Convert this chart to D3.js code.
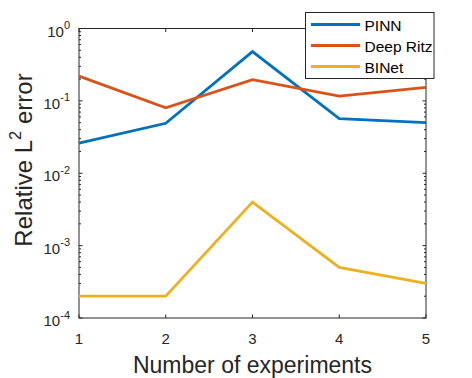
<!DOCTYPE html>
<html lang="en">
<head>
<meta charset="UTF-8">
<title>Relative L2 error</title>
<script src="https://d3js.org/d3.v7.min.js"></script>
<style>
  body { margin: 0; background: #fff; }
  svg { font-family: "Liberation Sans", Arial, sans-serif; }
</style>
</head>
<body>
<svg width="472" height="378"></svg>
<script>
// data
var experiments = [1, 2, 3, 4, 5];
var pinn = [0.026, 0.049, 0.48, 0.057, 0.050];
var deepRitz = [0.22, 0.080, 0.196, 0.116, 0.154];
var binet = [0.0002, 0.0002, 0.004, 0.0005, 0.0003];
var seriesNames = ["PINN", "Deep Ritz", "BINet"];
var seriesColors = ["#0072BD", "#D95319", "#EDB120"];
var yTickExps = [0, -1, -2, -3, -4];

(function() {
  var svg = d3.select("svg");
  var pl = 79, pr = 426, pt = 28.5, pb = 318;

  var x = d3.scaleLinear().domain([1, 5]).range([pl, pr]);
  var y = d3.scaleLog().domain([1e-4, 1]).range([pb, pt]);

  var all = [pinn, deepRitz, binet];

  // box
  svg.append("rect")
    .attr("x", pl).attr("y", pt)
    .attr("width", pr - pl).attr("height", pb - pt)
    .attr("fill", "none").attr("stroke", "#262626").attr("stroke-width", 1);

  // ticks (inside, both sides)
  var ticks = svg.append("g").attr("stroke", "#262626").attr("stroke-width", 1);
  experiments.forEach(function(v) {
    ticks.append("line").attr("x1", x(v)).attr("x2", x(v)).attr("y1", pb).attr("y2", pb - 3.5);
    ticks.append("line").attr("x1", x(v)).attr("x2", x(v)).attr("y1", pt).attr("y2", pt + 3.5);
  });
  for (var e = -4; e <= 0; e++) {
    [1, 2, 3, 4, 5, 6, 7, 8, 9].forEach(function(m) {
      var v = m * Math.pow(10, e);
      if (v > 1) return;
      var len = m === 1 ? 3.5 : 2;
      ticks.append("line").attr("x1", pl).attr("x2", pl + len).attr("y1", y(v)).attr("y2", y(v));
      ticks.append("line").attr("x1", pr).attr("x2", pr - len).attr("y1", y(v)).attr("y2", y(v));
    });
  }

  // x tick labels
  svg.append("g").selectAll("text").data(experiments).join("text")
    .attr("x", function(d) { return x(d); })
    .attr("y", 343.5)
    .attr("text-anchor", "middle")
    .attr("font-size", 15)
    .attr("fill", "#262626")
    .text(function(d) { return d; });

  // y tick labels as 10^n
  var yl = svg.append("g").selectAll("text").data(yTickExps).join("text")
    .attr("x", 70)
    .attr("y", function(d) { return y(Math.pow(10, d)) + 8; })
    .attr("text-anchor", "end")
    .attr("font-size", 15)
    .attr("fill", "#262626");
  yl.append("tspan").text("10");
  yl.append("tspan").attr("dy", -7.5).attr("font-size", 11).text(function(d) { return d; });

  // axis labels
  svg.append("text")
    .attr("x", (pl + pr) / 2).attr("y", 373)
    .attr("text-anchor", "middle").attr("font-size", 23).attr("fill", "#262626")
    .text("Number of experiments");

  var ylab = svg.append("text")
    .attr("transform", "translate(31.5,160) rotate(-90)")
    .attr("text-anchor", "middle").attr("font-size", 24).attr("fill", "#262626");
  ylab.append("tspan").text("Relative L");
  ylab.append("tspan").attr("dy", -11).attr("font-size", 16.5).text("2");
  ylab.append("tspan").attr("dy", 11).text(" error");

  // lines
  var line = d3.line()
    .x(function(d, i) { return x(experiments[i]); })
    .y(function(d) { return y(d); });

  svg.append("g").selectAll("path").data(all).join("path")
    .attr("d", line)
    .attr("fill", "none")
    .attr("stroke", function(d, i) { return seriesColors[i]; })
    .attr("stroke-width", 2.8)
    .attr("stroke-linejoin", "miter");

  // legend
  var lg = svg.append("g");
  lg.append("rect")
    .attr("x", 305.5).attr("y", 12.5).attr("width", 128.5).attr("height", 66)
    .attr("fill", "#fff").attr("stroke", "#262626").attr("stroke-width", 1);
  seriesNames.forEach(function(name, i) {
    var ly = 24.5 + i * 21;
    lg.append("line")
      .attr("x1", 311).attr("x2", 360).attr("y1", ly).attr("y2", ly)
      .attr("stroke", seriesColors[i]).attr("stroke-width", 2.8);
    lg.append("text")
      .attr("x", 364.5).attr("y", ly + 6)
      .attr("font-size", 15.5).attr("fill", "#000")
      .text(name);
  });
})();
</script>
</body>
</html>
